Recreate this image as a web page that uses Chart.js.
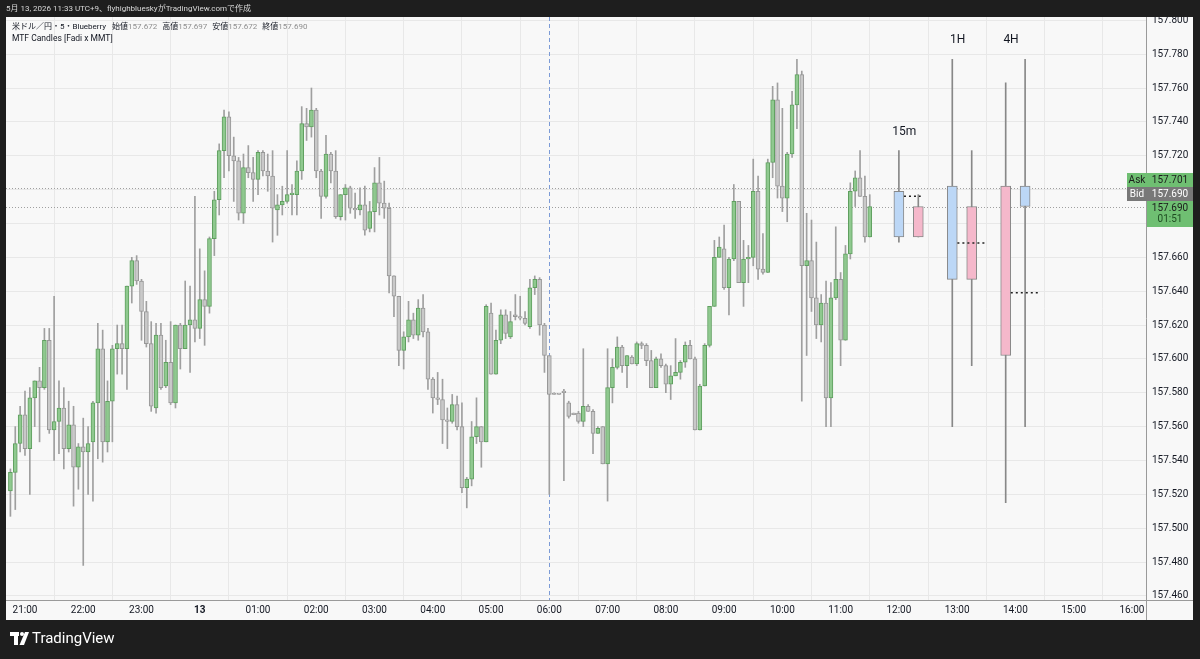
<!DOCTYPE html>
<html>
<head>
<meta charset="utf-8">
<script src="https://cdn.jsdelivr.net/npm/chart.js@4.4.1/dist/chart.umd.min.js"></script>
<style>
  html, body { margin: 0; padding: 0; background: #1e1e1e; }
  canvas { display: block; }
</style>
</head>
<body>
<canvas id="chart" width="1200" height="659"></canvas>
<script>
// --- 5m candles, first bar 20:45 ---
const candleOpen = [
  157.522,157.533,157.550,157.567,157.547,157.577,157.587,157.583,157.611,157.558,
  157.563,157.571,157.547,157.561,157.536,157.548,157.545,157.551,157.574,157.606,
  157.551,157.575,157.606,157.609,157.606,157.643,157.658,157.646,157.628,157.609,
  157.571,157.614,157.584,157.598,157.574,157.620,157.606,157.620,157.623,157.618,
  157.635,157.631,157.671,157.694,157.723,157.743,157.720,157.717,157.686,157.713,
  157.710,157.706,157.722,157.711,157.708,157.688,157.691,157.693,157.697,157.697,
  157.711,157.739,157.737,157.747,157.711,157.696,157.721,157.711,157.684,157.697,
  157.701,157.689,157.688,157.691,157.677,157.687,157.704,157.692,157.689,157.649,
  157.637,157.605,157.613,157.623,157.614,157.630,157.616,157.588,157.577,157.576,
  157.564,157.563,157.573,157.560,157.524,157.529,157.554,157.560,157.551,157.627,
  157.591,157.611,157.626,157.613,157.626,157.625,157.624,157.619,157.642,157.647,
  157.620,157.602,157.579,157.579,157.581,157.574,157.568,157.568,157.563,157.572,
  157.569,157.556,157.560,157.538,157.583,157.595,157.607,157.596,157.601,157.597,
  157.609,157.608,157.599,157.583,157.600,157.596,157.585,157.590,157.592,157.598,
  157.608,157.600,157.558,157.584,157.608,157.631,157.660,157.665,157.642,157.659,
  157.693,157.645,157.659,157.660,157.699,157.653,157.651,157.716,157.753,157.702,
  157.695,157.721,157.750,157.768,157.655,157.658,157.636,157.620,157.633,157.577,
  157.636,157.647,157.611,157.662,157.699,157.707,157.696,157.672
];
const candleHigh = [
  157.535,157.560,157.572,157.581,157.583,157.587,157.595,157.618,157.618,157.637,
  157.587,157.583,157.575,157.572,157.550,157.565,157.560,157.575,157.621,157.617,
  157.587,157.608,157.620,157.620,157.643,157.660,157.661,157.647,157.634,157.622,
  157.621,157.621,157.611,157.622,157.620,157.621,157.646,157.643,157.696,157.665,
  157.652,157.672,157.699,157.727,157.747,157.746,157.731,157.719,157.721,157.726,
  157.719,157.723,157.723,157.721,157.723,157.697,157.702,157.723,157.703,157.717,
  157.749,157.748,157.760,157.748,157.712,157.732,157.722,157.723,157.697,157.703,
  157.702,157.698,157.701,157.702,157.693,157.713,157.719,157.705,157.692,157.649,
  157.637,157.616,157.634,157.627,157.635,157.638,157.618,157.589,157.592,157.588,
  157.571,157.579,157.578,157.574,157.530,157.563,157.577,157.560,157.632,157.633,
  157.617,157.629,157.629,157.628,157.638,157.637,157.628,157.647,157.649,157.648,
  157.621,157.602,157.580,157.579,157.582,157.575,157.568,157.569,157.606,157.573,
  157.570,157.560,157.560,157.606,157.600,157.613,157.608,157.602,157.602,157.610,
  157.610,157.609,157.605,157.601,157.603,157.597,157.596,157.612,157.599,157.610,
  157.611,157.601,157.585,157.609,157.631,157.670,157.672,157.679,157.660,157.703,
  157.693,157.670,157.667,157.718,157.708,157.674,157.718,157.761,157.763,157.748,
  157.722,157.758,157.777,157.770,157.686,157.682,157.669,157.638,157.646,157.645,
  157.678,157.651,157.667,157.704,157.711,157.723,157.708,157.697
];
const candleLow = [
  157.507,157.511,157.545,157.543,157.520,157.560,157.551,157.582,157.556,157.540,
  157.544,157.535,157.545,157.513,157.523,157.478,157.520,157.516,157.541,157.539,
  157.545,157.551,157.591,157.591,157.582,157.633,157.644,157.611,157.607,157.569,
  157.568,157.582,157.583,157.573,157.571,157.594,157.606,157.592,157.610,157.612,
  157.608,157.627,157.661,157.685,157.707,157.711,157.693,157.682,157.680,157.707,
  157.693,157.697,157.708,157.699,157.669,157.673,157.685,157.692,157.685,157.685,
  157.706,157.729,157.731,157.707,157.683,157.695,157.704,157.683,157.682,157.682,
  157.686,157.683,157.685,157.673,157.675,157.675,157.685,157.683,157.639,157.625,
  157.596,157.594,157.610,157.612,157.611,157.613,157.582,157.568,157.573,157.550,
  157.547,157.562,157.558,157.521,157.512,157.525,157.550,157.536,157.551,157.591,
  157.591,157.609,157.612,157.612,157.623,157.623,157.620,157.618,157.638,157.614,
  157.592,157.520,157.579,157.579,157.528,157.565,157.567,157.562,157.560,157.569,
  157.544,157.556,157.538,157.516,157.574,157.594,157.592,157.583,157.597,157.596,
  157.606,157.596,157.583,157.583,157.595,157.580,157.576,157.590,157.588,157.595,
  157.600,157.558,157.558,157.584,157.607,157.631,157.660,157.641,157.626,157.658,
  157.645,157.631,157.645,157.655,157.647,157.650,157.651,157.707,157.695,157.687,
  157.681,157.719,157.736,157.575,157.602,157.628,157.612,157.610,157.560,157.560,
  157.635,157.596,157.611,157.659,157.690,157.696,157.669,157.672
];
const candleClose = [
  157.533,157.550,157.567,157.547,157.577,157.587,157.583,157.611,157.558,157.563,
  157.571,157.547,157.561,157.536,157.548,157.545,157.550,157.574,157.606,157.551,
  157.575,157.606,157.609,157.606,157.643,157.658,157.646,157.628,157.609,157.572,
  157.614,157.583,157.598,157.574,157.620,157.606,157.620,157.623,157.618,157.635,
  157.631,157.671,157.694,157.723,157.743,157.720,157.717,157.686,157.713,157.710,
  157.706,157.722,157.711,157.708,157.689,157.691,157.693,157.697,157.698,157.711,
  157.739,157.737,157.747,157.711,157.696,157.721,157.711,157.684,157.697,157.701,
  157.689,157.688,157.691,157.676,157.687,157.704,157.692,157.689,157.649,157.637,
  157.605,157.613,157.623,157.614,157.630,157.616,157.588,157.577,157.576,157.564,
  157.563,157.573,157.560,157.524,157.529,157.554,157.560,157.551,157.631,157.591,
  157.611,157.626,157.615,157.622,157.625,157.624,157.621,157.642,157.647,157.620,
  157.602,157.579,157.579,157.579,157.580,157.566,157.567,157.563,157.572,157.569,
  157.556,157.559,157.538,157.583,157.595,157.607,157.596,157.602,157.597,157.609,
  157.608,157.599,157.583,157.600,157.596,157.585,157.590,157.592,157.598,157.608,
  157.600,157.558,157.584,157.608,157.631,157.660,157.666,157.642,157.659,157.693,
  157.645,157.659,157.660,157.699,157.653,157.651,157.716,157.753,157.702,157.695,
  157.721,157.750,157.768,157.655,157.658,157.636,157.620,157.633,157.577,157.636,
  157.647,157.611,157.662,157.699,157.707,157.696,157.672,157.690
];

// --- axes ---
const timeLabels = ['21:00','22:00','23:00','13','01:00','02:00','03:00','04:00','05:00','06:00',
  '07:00','08:00','09:00','10:00','11:00','12:00','13:00','14:00','15:00','16:00'];
const priceTicks = [157.46,157.48,157.50,157.52,157.54,157.56,157.58,157.60,157.62,157.64,
  157.66,157.68,157.70,157.72,157.74,157.76,157.78,157.80];
const sessionBreak = '06:00';

// --- MTF candles (previous, current) per timeframe ---
const mtfLabels = ['15m', '1H', '4H'];
const mtfOpen  = [157.699, 157.672, 157.702, 157.647, 157.602, 157.702];
const mtfHigh  = [157.723, 157.697, 157.777, 157.723, 157.763, 157.777];
const mtfLow   = [157.669, 157.672, 157.560, 157.596, 157.515, 157.560];
const mtfClose = [157.672, 157.690, 157.647, 157.690, 157.702, 157.690];

// --- legend / price labels ---
const symbolTitle = '米ドル／円・5・Blueberry';
const ohlcNames = ['始値', '高値', '安値', '終値'];
const ohlcValues = ['157.672', '157.697', '157.672', '157.690'];
const indicatorName = 'MTF Candles [Fadi x MMT]';
const headerText = '5月 13, 2026 11:33 UTC+9、flyhighblueskyがTradingView.comで作成';
const askPrice = 157.701;
const bidPrice = 157.690;
const lastPrice = 157.690;
const countdown = '01:51';

// layout
const FIRST_TICK = 3, PER_HOUR = 12;
const MTF_START = candleOpen.length + 5, PAIR_GAP = 4, GROUP_GAP = 11;
const MID_EXTEND = [0.5, 3, 3];
const FONT = "Roboto, 'Noto Sans CJK JP', sans-serif";
const DARK = '#1e1e1e', PANE = '#f8f8f8', GRID = '#e8e8e8';
const BULL = '#8fc98f', BULL_EDGE = '#5f9f5f', BEAR = '#c9c9c9', BEAR_EDGE = '#979797';
const MTF_BULL = '#f5b8cb', MTF_BEAR = '#bcd7f6', MTF_EDGE = '#888888';

const isUp = (o, c) => c > o;
const candles = candleOpen.map((o, i) => ({ i, o, h: candleHigh[i], l: candleLow[i], c: candleClose[i] }));

const mtfX = mtfOpen.map((_, k) => MTF_START + Math.floor(k / 2) * GROUP_GAP + (k % 2) * PAIR_GAP);

const midDatasets = mtfLabels.map((_, g) => {
  const p = g * 2;
  const mid = (mtfHigh[p] + mtfLow[p]) / 2;
  return {
    type: 'line',
    data: [{ x: mtfX[p] + 1.05, y: mid }, { x: mtfX[p + 1] + MID_EXTEND[g], y: mid }],
    borderColor: '#222',
    borderWidth: 1.5,
    borderDash: [2, 3],
    pointRadius: 0,
    order: 0,
  };
});

const fixWidth = (w) => (scale) => { scale.width = w; scale.paddingTop = 0; scale.paddingBottom = 0; };
const fixHeight = (h) => (scale) => { scale.height = h; scale.paddingLeft = 0; scale.paddingRight = 0; };

const decor = {
  id: 'decor',
  beforeDraw(chart) {
    const { ctx, width, height } = chart;
    ctx.save();
    ctx.fillStyle = DARK;
    ctx.fillRect(0, 0, width, height);
    ctx.fillStyle = PANE;
    ctx.fillRect(6, 17, 1187, 603);
    ctx.restore();
  },
  beforeDatasetsDraw(chart) {
    const { ctx, chartArea: a, scales: { x, y } } = chart;
    ctx.save();
    ctx.lineWidth = 1;
    ctx.strokeStyle = '#a0a0a0';
    ctx.setLineDash([1, 2]);
    [askPrice, bidPrice].forEach((p) => {
      const py = Math.round(y.getPixelForValue(p)) + 0.5;
      ctx.beginPath(); ctx.moveTo(a.left, py); ctx.lineTo(a.right, py); ctx.stroke();
    });
    ctx.strokeStyle = '#7c9bd6';
    ctx.setLineDash([4, 3]);
    const sx = Math.round(x.getPixelForValue(FIRST_TICK + PER_HOUR * timeLabels.indexOf(sessionBreak))) + 0.5;
    ctx.beginPath(); ctx.moveTo(sx, a.top); ctx.lineTo(sx, a.bottom); ctx.stroke();
    ctx.restore();
  },
  afterDraw(chart) {
    const { ctx, chartArea: a, scales: { x, y } } = chart;
    ctx.save();

    // timeframe labels
    ctx.fillStyle = '#131722';
    ctx.font = '12px ' + FONT;
    ctx.textAlign = 'center';
    ctx.textBaseline = 'middle';
    mtfLabels.forEach((lab, g) => {
      const p = g * 2;
      const top = Math.max(mtfHigh[p], mtfHigh[p + 1]);
      ctx.fillText(lab, x.getPixelForValue(mtfX[p] + 1.1), y.getPixelForValue(top) - 19);
    });

    // axis borders
    ctx.strokeStyle = '#9a9a9a';
    ctx.lineWidth = 1;
    ctx.beginPath();
    ctx.moveTo(a.right + 0.5, 17); ctx.lineTo(a.right + 0.5, 620);
    ctx.moveTo(6, a.bottom + 0.5); ctx.lineTo(1193, a.bottom + 0.5);
    ctx.stroke();

    // price labels on the axis
    const box = (x0, y0, w, h, bg) => { ctx.fillStyle = bg; ctx.fillRect(x0, y0, w, h); };
    const ax = a.right + 1, aw = 1193 - ax;
    ctx.font = '10px ' + FONT;
    ctx.textAlign = 'center';
    box(1127, 173, ax - 1127, 14, '#6fbf72'); box(ax, 173, aw, 14, '#6fbf72');
    box(1127, 187, ax - 1127, 14, '#787878'); box(ax, 187, aw, 14, '#787878');
    box(ax, 201, aw, 26, '#6fbf72');
    ctx.fillStyle = '#1b1b1b';
    ctx.fillText('Ask', (1127 + ax) / 2, 180.5);
    ctx.fillText(askPrice.toFixed(3), ax + aw / 2, 180.5);
    ctx.fillStyle = '#ffffff';
    ctx.fillText('Bid', (1127 + ax) / 2, 194.5);
    ctx.fillText(bidPrice.toFixed(3), ax + aw / 2, 194.5);
    ctx.fillStyle = '#1b1b1b';
    ctx.fillText(lastPrice.toFixed(3), ax + aw / 2, 208);
    ctx.fillStyle = '#1f4d22';
    ctx.fillText(countdown, ax + aw / 2, 219.5);

    // dark frame
    ctx.fillStyle = DARK;
    ctx.fillRect(0, 0, 1200, 17);
    ctx.fillRect(0, 620, 1200, 39);
    ctx.fillRect(0, 0, 6, 659);
    ctx.fillRect(1193, 0, 7, 659);

    // header
    ctx.textAlign = 'left';
    ctx.fillStyle = '#d8d8d8';
    ctx.font = '8px ' + FONT;
    ctx.fillText(headerText, 6, 9);

    // legend
    ctx.font = '8px ' + FONT;
    let lx = 12;
    ctx.fillStyle = '#131722';
    ctx.fillText(symbolTitle, lx, 27);
    lx += ctx.measureText(symbolTitle).width + 6;
    ohlcNames.forEach((n, k) => {
      ctx.fillStyle = '#131722';
      ctx.fillText(n, lx, 27);
      lx += ctx.measureText(n).width;
      ctx.fillStyle = '#8f8f8f';
      ctx.fillText(ohlcValues[k], lx, 27);
      lx += ctx.measureText(ohlcValues[k]).width + 5;
    });
    ctx.fillStyle = '#131722';
    ctx.font = '8.5px ' + FONT;
    ctx.fillText(indicatorName, 12, 39);

    // logo
    ctx.fillStyle = '#ffffff';
    ctx.fillRect(10, 632, 9, 4);
    ctx.fillRect(14, 632, 4, 13);
    ctx.beginPath(); ctx.arc(22, 634, 2, 0, Math.PI * 2); ctx.fill();
    ctx.beginPath();
    ctx.moveTo(25, 632); ctx.lineTo(29, 632); ctx.lineTo(24, 645); ctx.lineTo(19.5, 645);
    ctx.closePath(); ctx.fill();
    ctx.font = '15px ' + FONT;
    ctx.fillText('TradingView', 32, 639);
    ctx.restore();
  },
};

new Chart(document.getElementById('chart'), {
  type: 'bar',
  data: {
    datasets: [
      {
        data: candles.map((d) => ({ x: d.i, y: [d.l, d.h] })),
        backgroundColor: '#9f9f9f',
        barThickness: 1,
        grouped: false,
        order: 3,
      },
      {
        data: candles.map((d) => ({ x: d.i, y: [d.o, d.c] })),
        backgroundColor: candles.map((d) => (isUp(d.o, d.c) ? BULL : BEAR)),
        borderColor: candles.map((d) => (isUp(d.o, d.c) ? BULL_EDGE : BEAR_EDGE)),
        borderWidth: 1,
        borderSkipped: false,
        barThickness: 4,
        minBarLength: 1,
        grouped: false,
        order: 2,
      },
      {
        data: mtfOpen.map((_, k) => ({ x: mtfX[k], y: [mtfLow[k], mtfHigh[k]] })),
        backgroundColor: MTF_EDGE,
        barThickness: 1,
        grouped: false,
        order: 3,
      },
      {
        data: mtfOpen.map((o, k) => ({ x: mtfX[k], y: [o, mtfClose[k]] })),
        backgroundColor: mtfOpen.map((o, k) => (isUp(o, mtfClose[k]) ? MTF_BULL : MTF_BEAR)),
        borderColor: MTF_EDGE,
        borderWidth: 1,
        borderSkipped: false,
        barThickness: 10,
        grouped: false,
        order: 2,
      },
      ...midDatasets,
    ],
  },
  options: {
    responsive: false,
    devicePixelRatio: 1,
    animation: false,
    events: [],
    layout: { padding: { left: 6, top: 17, right: 7, bottom: 39 } },
    plugins: { legend: { display: false }, tooltip: { enabled: false } },
    scales: {
      x: {
        type: 'linear',
        offset: false,
        min: -0.91,
        max: 233.9,
        afterFit: fixHeight(20),
        afterBuildTicks: (scale) => { scale.ticks = timeLabels.map((_, k) => ({ value: FIRST_TICK + PER_HOUR * k })); },
        grid: { color: GRID, drawTicks: false },
        border: { display: false },
        ticks: {
          autoSkip: false,
          maxRotation: 0,
          padding: 4,
          color: '#131722',
          font: (c) => ({ family: FONT, size: 10, weight: c.tick && c.tick.label === '13' ? 'bold' : 'normal' }),
          callback: (v, idx) => timeLabels[idx],
        },
      },
      y: {
        type: 'linear',
        position: 'right',
        min: 157.45758,
        max: 157.80194,
        afterFit: fixWidth(47),
        afterBuildTicks: (scale) => { scale.ticks = priceTicks.map((v) => ({ value: v })); },
        grid: { color: GRID, drawTicks: false },
        border: { display: false },
        ticks: {
          autoSkip: false,
          padding: 6,
          color: '#131722',
          font: { family: FONT, size: 10 },
          callback: (v) => Number(v).toFixed(3),
        },
      },
    },
  },
  plugins: [decor],
});
</script>
</body>
</html>
